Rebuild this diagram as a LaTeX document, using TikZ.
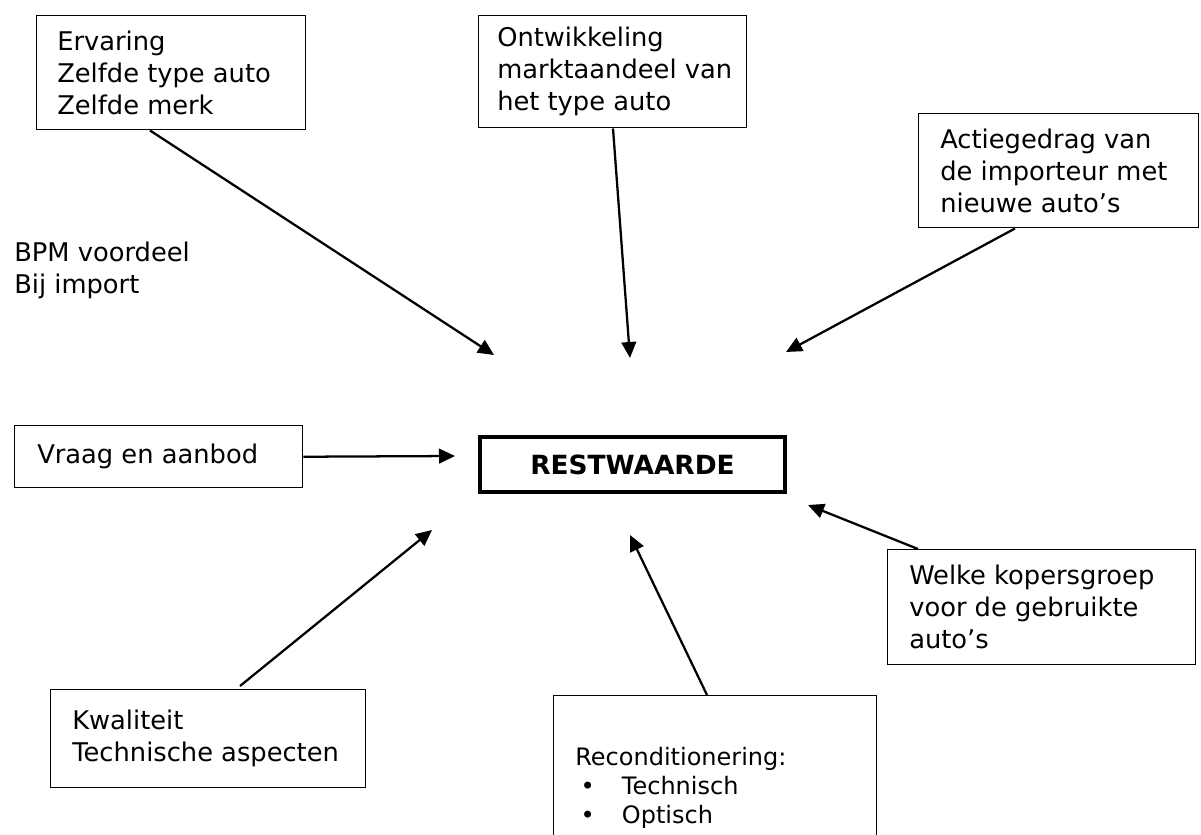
\documentclass[tikz,border=0pt]{standalone}
\usepackage{fontspec}
\setmainfont{DejaVu Sans}
\usetikzlibrary{arrows.meta,calc}

\begin{document}
\begin{tikzpicture}[x=0.75pt,y=-0.75pt,
    kader/.style={draw,line width=1.1pt,inner sep=0pt},
    tekst/.style={font=\fontsize{19.3}{24}\selectfont,align=left,inner sep=0pt},
    pijl/.style={-{Triangle[length=12pt,width=11pt]},line width=1.7pt}]

    \useasboundingbox (0,0) rectangle (1201,834);

    % Kaders met factoren (naam/x/y/breedte/hoogte/inspringing/tekst)
    \foreach \naam/\x/\y/\w/\h/\pad/\tekst in {
      ervaring/36/15/269/114/21/{Ervaring\\Zelfde type auto\\Zelfde merk},
      markt/478/15/268/112/19/{Ontwikkeling\\marktaandeel van\\het type auto},
      actie/918/113/280/114/22/{Actiegedrag van\\de importeur met\\nieuwe auto's},
      vraag/14/425/288/62/23/{Vraag en aanbod},
      kopers/887/549/308/115/22/{Welke kopersgroep\\voor de gebruikte\\auto's},
      kwaliteit/50/689/315/98/22/{Kwaliteit\\Technische aspecten}}{
      \node[kader,anchor=north west,minimum width=\w*0.75pt,
            minimum height=\h*0.75pt] (\naam) at (\x,\y) {};
      \node[tekst,anchor=west] at ($(\naam.west)+(\pad,0)$) {\tekst};
    }

    % Losse tekst zonder kader
    \node[tekst,anchor=north west] (bpm) at (14,242) {BPM voordeel\\Bij import};

    % Reconditionering (loopt onder de rand door)
    \node[kader,anchor=north west,minimum width=323*0.75pt,
          minimum height=160*0.75pt] (recon) at (553,695) {};
    \node[anchor=north west,inner sep=0pt,align=left,
          font=\fontsize{18}{21.75}\selectfont] (recontekst) at (575,747)
      {Reconditionering:\\
       \hspace*{4pt}\makebox[31pt][l]{\textbullet}Technisch\\
       \hspace*{4pt}\makebox[31pt][l]{\textbullet}Optisch};

    % Centrale knoop
    \node[draw,line width=2.6pt,minimum width=305*0.75pt,minimum height=55*0.75pt,
          font=\fontsize{19.8}{24}\selectfont\bfseries] (rest) at (632.5,464.5) {RESTWAARDE};

    % Pijlpunten
    \coordinate (p1) at (494,355);
    \coordinate (p2) at (630,358);
    \coordinate (p3) at (786,352);
    \coordinate (p4) at (455,456);
    \coordinate (p5) at (808,505);
    \coordinate (p6) at (630,535);
    \coordinate (p7) at (432,530);

    \draw[pijl] ($(ervaring.south west)+(114,0)$) -- (p1);
    \draw[pijl] ($(markt.south west)+(135,0)$) -- (p2);
    \draw[pijl] ($(actie.south west)+(97,0)$) -- (p3);
    \draw[pijl] (vraag.east) -- (p4);
    \draw[pijl] ($(kopers.north west)+(31,0)$) -- (p5);
    \draw[pijl] ($(recon.north west)+(154,0)$) -- (p6);
    \draw[pijl] ($(kwaliteit.north west)+(190,-3)$) -- (p7);

\end{tikzpicture}
\end{document}
